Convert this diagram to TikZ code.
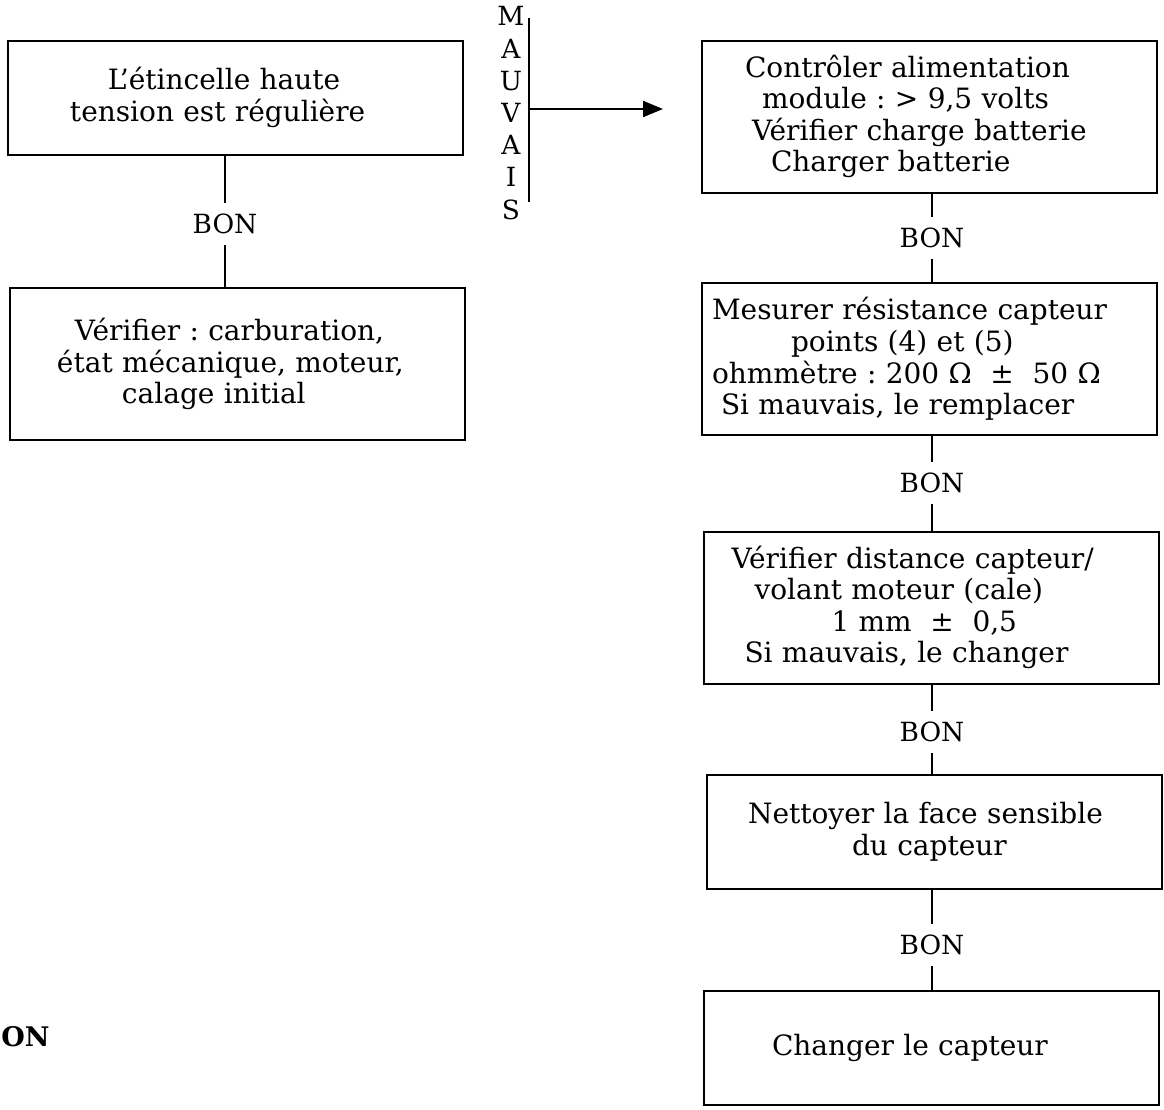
\documentclass[tikz,border=0pt]{standalone}
\usepackage{fontspec}
\setmainfont{DejaVu Serif}
\usetikzlibrary{arrows.meta,positioning}
\frenchspacing

\begin{document}
\begin{tikzpicture}[x=0.5pt, y=-0.5pt,
      box/.style={draw, line width=1pt, inner xsep=0pt, inner ysep=0pt,
                  text width=227.5pt, minimum height=76pt, align=left,
                  font=\fontsize{14}{15.8}\selectfont},
      lowbox/.style={box, minimum height=57pt},
      bon/.style={font=\fontsize{13.2}{15}\selectfont, inner sep=0pt,
                  minimum height=21pt},
      lnk/.style={line width=1pt},
      arr/.style={-{Triangle[length=10pt,width=8pt]}, line width=1pt}
  ]
    \useasboundingbox (0,0) rectangle (1164,1110);

    % left column
    \node[lowbox] (et) at (235.5,97.5)
      {\hspace*{50pt}L'étincelle haute\\ \hspace*{31pt}tension est régulière};
    \node[bon] (b1) at (225,224) {BON};
    \node[box] (ve) at (237.5,364)
      {\hspace*{32.5pt}Vérifier : carburation,\\ \hspace*{23.5pt}état mécanique, moteur,\\
       \hspace*{56pt}calage initial};
    \draw[lnk] (et.south -| b1) -- (b1.north);
    \draw[lnk] (b1.south) -- (ve.north -| b1);

    % mauvais
    \node[font=\fontsize{13.2}{16.1}\selectfont, align=center, inner sep=0pt]
      (mv) at (511,113) {M\\A\\U\\V\\A\\I\\S};
    \coordinate (vt) at (529,18);
    \coordinate (vb) at (529,202);
    \coordinate (vm) at (529,109);
    \coordinate (tip) at (663,109);
    \draw[lnk] (vt) -- (vb);
    \draw[arr] (vm) -- (tip);

    % right column
    \node[box] (al) at (929.5,116.5)
      {\hspace*{21.5pt}Contrôler alimentation\\ \hspace*{30pt}module : > 9,5 volts\\
       \hspace*{25pt}Vérifier charge batterie\\ \hspace*{34.5pt}Charger batterie};
    \node[bon] (b2) at (932,238) {BON};
    \node[box] (rs) at (929.5,359)
      {\hspace*{5pt}Mesurer résistance capteur\\ \hspace*{44.5pt}points (4) et (5)\\
       \hspace*{5pt}ohmmètre : 200 Ω ~±~ 50 Ω\\ \hspace*{9.5pt}Si mauvais, le remplacer};
    \node[bon] (b3) at (932,483) {BON};
    \node[box] (di) at (931,607.5)
      {\hspace*{14pt}Vérifier distance capteur/\\ \hspace*{25.5pt}volant moteur (cale)\\
       \hspace*{64pt}1 mm ~±~ 0,5\\ \hspace*{20.5pt}Si mauvais, le changer};
    \node[bon] (b4) at (932,732) {BON};
    \node[lowbox] (ne) at (934.5,832)
      {\hspace*{20.5pt}Nettoyer la face sensible\\ \hspace*{72.5pt}du capteur};
    \node[bon] (b5) at (932,945) {BON};
    \node[lowbox] (ch) at (931.5,1048) {\hspace*{34pt}Changer le capteur};

    \draw[lnk] (al.south -| b2) -- (b2.north);
    \draw[lnk] (b2.south) -- (rs.north -| b2);
    \draw[lnk] (rs.south -| b3) -- (b3.north);
    \draw[lnk] (b3.south) -- (di.north -| b3);
    \draw[lnk] (di.south -| b4) -- (b4.north);
    \draw[lnk] (b4.south) -- (ne.north -| b4);
    \draw[lnk] (ne.south -| b5) -- (b5.north);
    \draw[lnk] (b5.south) -- (ch.north -| b5);

    \node[font=\fontsize{13.5}{14}\bfseries\selectfont, anchor=west, inner sep=0pt]
      (on) at (1,1037) {ON};
  \end{tikzpicture}
\end{document}
